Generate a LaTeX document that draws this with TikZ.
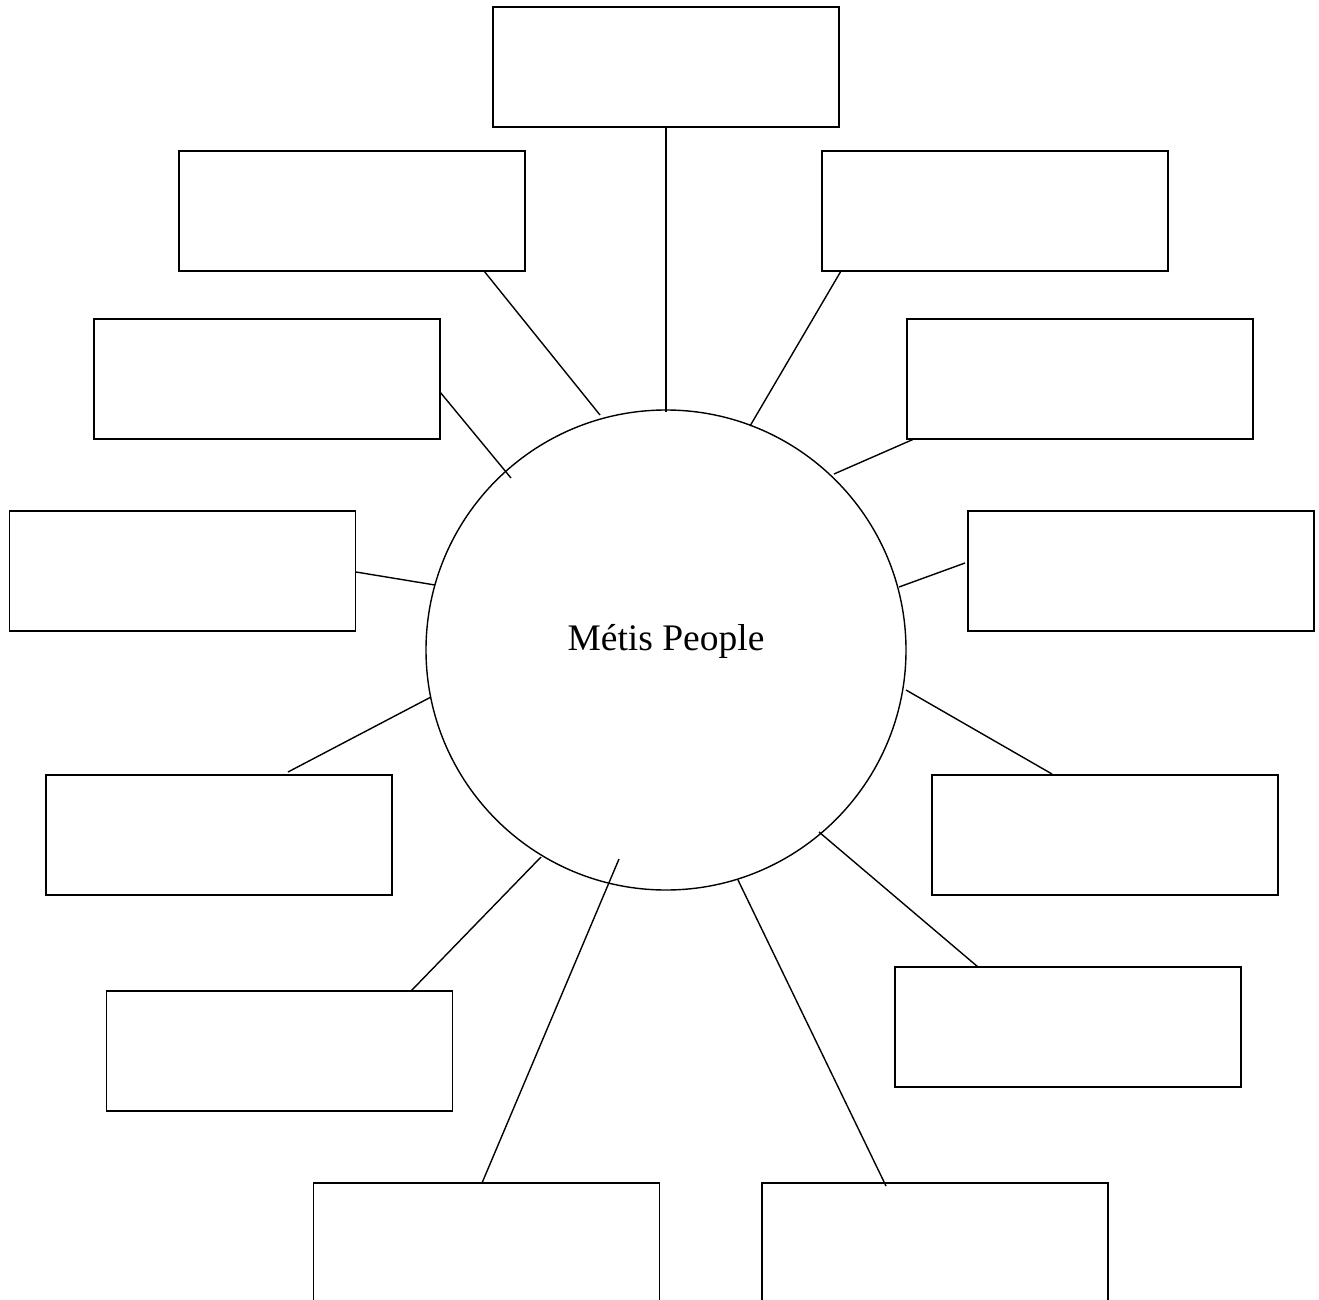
\documentclass[tikz,border=0pt]{standalone}
\usepackage{fontspec}
\setmainfont{Liberation Serif}
\begin{document}
\begin{tikzpicture}[x=1pt,y=-1pt,
  box/.style={draw, line width=1.4pt, rectangle, minimum width=346pt, minimum height=120pt, inner sep=0pt, outer sep=0pt},
  conn/.style={line width=1.4pt}]
\useasboundingbox (0,0) rectangle (1319,1300);
\clip (0,0) rectangle (1319,1300);
\fill[white] (0,0) rectangle (1319,1300);
% boxes (centres)
\node[box] (bt)  at (666,67) {};
\node[box] (btl) at (352,211) {};
\node[box] (btr) at (995,211) {};
\node[box] (bl2) at (267,379) {};
\node[box] (br2) at (1080,379) {};
\node[box] (bl3) at (182.5,571) {};
\node[box] (br3) at (1141,571) {};
\node[box] (bl4) at (219,835) {};
\node[box] (br4) at (1105,835) {};
\node[box] (bl5) at (279.5,1051) {};
\node[box] (br5) at (1068,1027) {};
\node[box] (bbl) at (486.5,1243) {};
\node[box] (bbr) at (935,1243) {};
% circle
\node[draw, circle, line width=1.4pt, minimum size=480pt, inner sep=0pt] (c) at (666,650) {};
\node[font=\fontsize{37.5}{44}\selectfont] (lab) at (666,641) {Métis People};
% connector end points
\coordinate (pt1) at (666,127);   \coordinate (qt1) at (666,412);
\coordinate (pt2) at (484,271);   \coordinate (qt2) at (600,415);
\coordinate (pt3) at (841,271);   \coordinate (qt3) at (750,426);
\coordinate (pt4) at (440,392);   \coordinate (qt4) at (511,478);
\coordinate (pt5) at (914,439);   \coordinate (qt5) at (834,474);
\coordinate (pt6) at (356,572);   \coordinate (qt6) at (435,585);
\coordinate (pt7) at (965,563);   \coordinate (qt7) at (899,587);
\coordinate (pt8) at (288,772);   \coordinate (qt8) at (431,697);
\coordinate (pt9) at (1052,774);  \coordinate (qt9) at (906,690);
\coordinate (pt10) at (411,991);  \coordinate (qt10) at (541,857);
\coordinate (pt11) at (978,967);  \coordinate (qt11) at (819,832);
\coordinate (pt12) at (482,1183); \coordinate (qt12) at (619,859);
\coordinate (pt13) at (886,1186); \coordinate (qt13) at (738,880);
\foreach \i in {1,...,13} { \draw[conn] (pt\i) -- (qt\i); }
\end{tikzpicture}
\end{document}
